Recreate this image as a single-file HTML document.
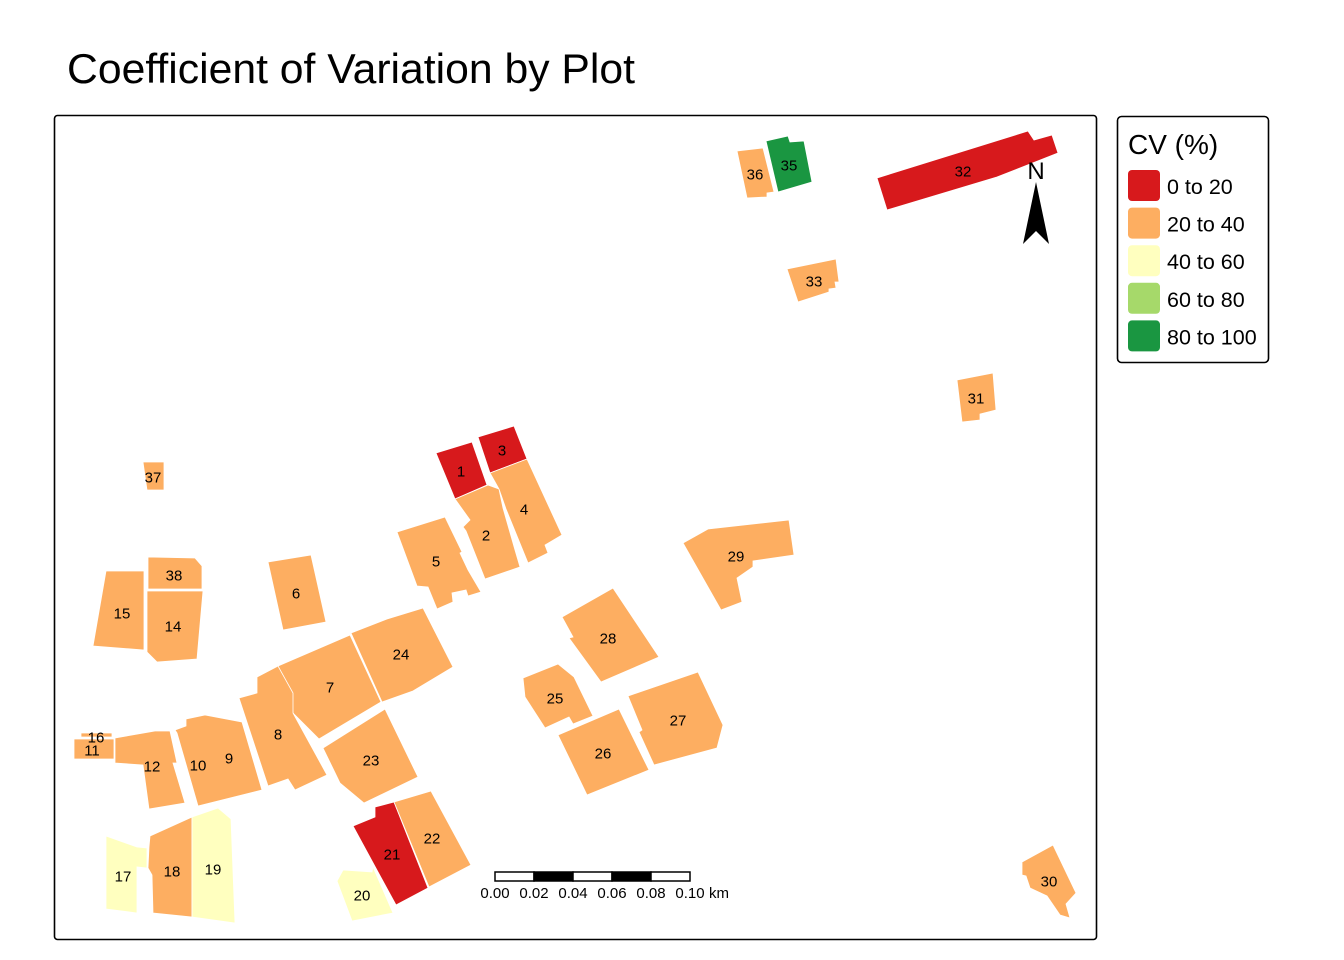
<!DOCTYPE html>
<html><head><meta charset="utf-8"><style>
html,body{margin:0;padding:0;background:#fff;}
svg{display:block;font-family:"Liberation Sans",Arial,sans-serif;}
</style></head><body>
<svg id="map" width="1344" height="960" viewBox="0 0 1344 960">
<rect width="1344" height="960" fill="#fff"/>
<text x="67" y="83" font-size="42" textLength="568" lengthAdjust="spacingAndGlyphs" fill="#000">Coefficient of Variation by Plot</text>
<rect x="54.5" y="115.5" width="1042" height="824" rx="3" fill="none" stroke="#000" stroke-width="1.6"/>
<g id="plots"></g>
<g id="labels"></g>
<g>
<polygon points="1023,244 1036,182 1049,244 1036,231" fill="#000"/>
<text x="1036" y="179" font-size="24" text-anchor="middle">N</text>
</g>
<g id="scalebar"></g>
<rect x="1117.5" y="116.5" width="151" height="246" rx="4" fill="#fff" stroke="#000" stroke-width="1.6"/>
<text x="1128" y="154" font-size="28">CV (%)</text>
<g id="legend"></g>
</svg>
<script>
const classLabels = ["0 to 20","20 to 40","40 to 60","60 to 80","80 to 100"];
const classColors = ["#D7191C","#FDAE61","#FFFFBF","#A6D96A","#1A9641"];
const plotIds = ["1","3","2","4","5","29","28","25","26","27","24","7","8","23","6","38","14","15","16","11","12","10","17","18","19","20","21","22","37","31","30","33","36","35","32"];
const plotClass = [0,0,1,1,1,1,1,1,1,1,1,1,1,1,1,1,1,1,1,1,1,1,2,1,2,2,0,1,1,1,1,1,1,4,0];
const plotShapes = [
"436,453 472,442 487,485 455,499",
"478,437 514,426 527,459 490,473",
"455,499 488,485 499,489 503,508 515,550 520,567 485,579 466,531 463,527 470,520",
"490,473 527,459 562,535 545,545 548,553 528,563 506,509 499,489",
"397,532 445,517 462,552 460,553 468,570 481,592 468,596 466,590 452,593 453,602 437,609 428,587 417,586",
"683,543 708,529 789,520 794,555 753,561 753,567 737,578 742,602 721,610",
"562,617 613,588 659,657 601,682 569,638 573,637",
"523,678 558,664 574,677 593,716 573,724 569,717 545,728 525,697",
"558,735 619,709 649,770 587,795",
"628,696 698,672 723,725 717,748 654,765 639,732 642,730",
"351,633 387,619 423,608 453,667 413,691 382,702",
"278,666 350,635 381,702 319,739 293,713 290,690",
"239,698 257,693 257,677 278,666 293,693 293,713 327,775 295,790 288,779 268,786",
"323,748 385,709 418,777 364,803 340,783",
"268,562 311,555 326,622 283,630",
"148,557 195,558 202,566 202,589 148,589",
"147,591 203,591 197,659 157,662 147,652",
"106,571 144,571 144,650 93,646",
"81,733 112,733 112,737 81,737",
"74,739 114,739 114,759 74,759",
"115,738 155,731 170,731 177,763 173,763 185,803 149,809 143,765 115,763",
"175,730 186,726 186,719 205,715 242,722 262,790 198,806 177,733",
"106,836 137,847 147,848 147,868 137,867 137,913 106,909",
"150,836 192,817 192,917 153,913 152,875 148,868 149,847",
"192,817 218,808 231,819 235,923 192,917",
"337,881 343,870 372,872 373,867 393,913 352,921",
"353,826 375,817 375,807 394,802 428,888 396,905",
"394,802 431,791 471,865 429,887",
"143,462 164,462 164,490 147,490",
"957,380 993,373 996,410 980,414 980,420 962,422",
"1022,862 1053,845 1076,893 1066,904 1070,918 1060,915 1047,896 1030,888 1026,876 1022,875",
"787,269 836,259 839,282 835,282 836,288 829,289 829,292 798,302",
"737,151 763,148 774,192 767,193 767,197 747,198",
"766,141 788,136 790,142 804,141 812,182 778,192",
"877,178 1028,131 1034,140 1052,135 1058,153 997,177 887,210"];
const labelPos = [[461,471],[502,450],[486,535],[524,509],[436,561],[736,556],[608,638],[555,698],[603,753],[678,720],[401,654],[330,687],[278,734],[371,760],[296,593],[174,575],[173,626],[122,613],[96,737],[92,750],[152,766],[198,765],[123,876],[172,871],[213,869],[362,895],[392,854],[432,838],[153,477],[976,398],[1049,881],[814,281],[755,174],[789,165],[963,171]];
const extraLabels = [["9",229,758]];
const scaleTicks = ["0.00","0.02","0.04","0.06","0.08","0.10"];

const NS="http://www.w3.org/2000/svg";
const gp=document.getElementById('plots'), gl=document.getElementById('labels');
plotIds.forEach((id,i)=>{
  const p=document.createElementNS(NS,'polygon');
  p.setAttribute('points',plotShapes[i]);
  p.setAttribute('fill',classColors[plotClass[i]]);
  p.setAttribute('stroke','#fff');
  p.setAttribute('stroke-width','0.8');
  
  
  gp.appendChild(p);
});
function addLabel(txt,x,y){
  const t=document.createElementNS(NS,'text');
  t.setAttribute('x',x);t.setAttribute('y',y+5.5);
  t.setAttribute('font-size','15');t.setAttribute('text-anchor','middle');
  t.textContent=txt;
  
  
  gl.appendChild(t);
}
plotIds.forEach((id,i)=>addLabel(id,labelPos[i][0],labelPos[i][1]));
extraLabels.forEach(e=>addLabel(e[0],e[1],e[2]));

const sb=document.getElementById('scalebar');
const sx0=495, sw=39;
for(let i=0;i<5;i++){
  const r=document.createElementNS(NS,'rect');
  r.setAttribute('x',sx0+i*sw);r.setAttribute('y',872);r.setAttribute('width',sw);r.setAttribute('height',9);
  r.setAttribute('fill',i%2?'#000':'#fff');r.setAttribute('stroke','#000');r.setAttribute('stroke-width','1.5');
  
  
  sb.appendChild(r);
}
scaleTicks.forEach((s,i)=>{
  const t=document.createElementNS(NS,'text');
  t.setAttribute('x',sx0+i*sw);t.setAttribute('y',898);t.setAttribute('font-size','15');t.setAttribute('text-anchor','middle');
  t.textContent=s;
  
  
  sb.appendChild(t);
});
const km=document.createElementNS(NS,'text');
km.setAttribute('x',709);km.setAttribute('y',898);km.setAttribute('font-size','15');
km.textContent='km';


sb.appendChild(km);

const lg=document.getElementById('legend');
classLabels.forEach((l,i)=>{
  const y=170+i*37.6;
  const r=document.createElementNS(NS,'rect');
  r.setAttribute('x',1128);r.setAttribute('y',y);r.setAttribute('width',32);r.setAttribute('height',31);r.setAttribute('rx',4);
  r.setAttribute('fill',classColors[i]);
  
  
  lg.appendChild(r);
  const t=document.createElementNS(NS,'text');
  t.setAttribute('x',1167);t.setAttribute('y',y+24);t.setAttribute('font-size','21.5');
  t.textContent=l;
  
  
  lg.appendChild(t);
});
</script>
</body></html>
